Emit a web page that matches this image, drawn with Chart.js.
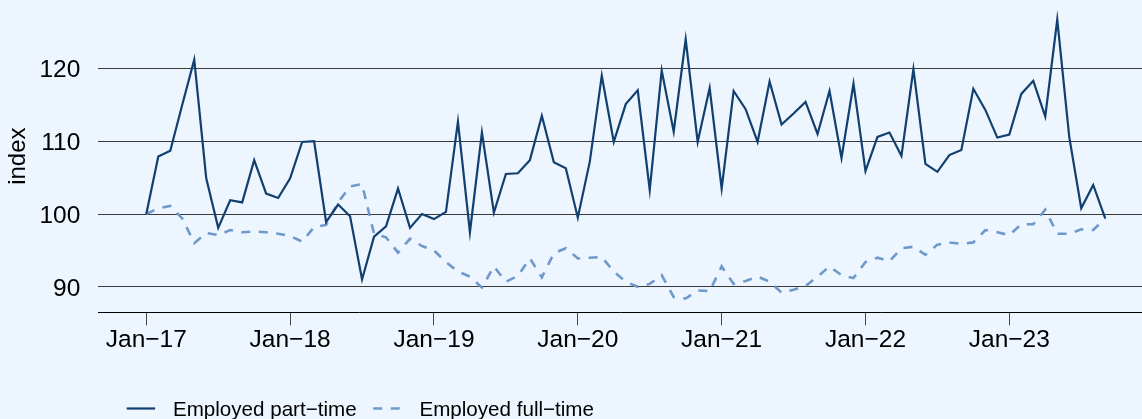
<!DOCTYPE html>
<html>
<head>
<meta charset="utf-8">
<script src="https://cdn.jsdelivr.net/npm/chart.js@4/dist/chart.umd.min.js"></script>
<style>
  html, body { margin: 0; padding: 0; background: #edf5fe; overflow: hidden; }
  #wrap { width: 1142px; height: 419px; position: relative; }
</style>
</head>
<body>
<div id="wrap"><canvas id="c" width="1142" height="419"></canvas></div>
<script>
// ---- data ----
const seriesNames = ['Employed part\u2212time', 'Employed full\u2212time'];
const partTime = [
  100.0, 107.9, 108.7, 115.0, 121.2, 104.9, 98.1, 101.9, 101.6, 107.4, 102.8, 102.2,
  104.9, 109.9, 110.0, 98.9, 101.3, 99.7, 91.0, 96.9, 98.3, 103.5, 98.1, 100.0,
  99.3, 100.3, 112.7, 97.5, 111.2, 100.2, 105.5, 105.6, 107.4, 113.5, 107.1, 106.3,
  99.5, 107.2, 119.0, 109.9, 115.1, 117.0, 103.3, 119.7, 111.3, 124.0, 109.9, 117.3,
  103.5, 116.9, 114.4, 109.9, 118.2, 112.3, 113.8, 115.4, 111.0, 116.9, 107.7, 117.9,
  105.9, 110.6, 111.2, 108.0, 119.9, 106.9, 105.8, 108.1, 108.8, 117.2, 114.3, 110.5,
  110.9, 116.5, 118.3, 113.4, 126.7, 110.6, 100.8, 104.0, 99.4
];
const fullTime = [
  100.0, 100.8, 101.1, 99.4, 96.0, 97.4, 97.1, 97.8, 97.5, 97.6, 97.5, 97.3,
  97.0, 96.2, 98.2, 98.5, 101.6, 103.8, 104.1, 97.3, 96.8, 94.7, 96.6, 95.6,
  95.0, 93.4, 92.1, 91.4, 89.9, 92.8, 90.7, 91.5, 93.9, 91.3, 94.6, 95.3,
  93.9, 94.0, 94.1, 92.1, 90.7, 90.0, 90.4, 91.6, 88.6, 88.4, 89.5, 89.4,
  92.8, 90.4, 90.8, 91.4, 90.7, 89.2, 89.6, 90.1, 91.4, 92.8, 91.6, 91.2,
  93.4, 94.0, 93.5, 95.3, 95.5, 94.4, 95.8, 96.1, 95.9, 96.1, 97.8, 97.5,
  97.1, 98.6, 98.6, 100.6, 97.3, 97.3, 97.9, 97.8, 99.4
];
const monthNames = ['Jan','Feb','Mar','Apr','May','Jun','Jul','Aug','Sep','Oct','Nov','Dec'];
const months = partTime.map((_, i) => monthNames[i % 12] + '\u2212' + String(17 + Math.floor(i / 12)));
const xTickLabels = ['Jan\u221217', 'Jan\u221218', 'Jan\u221219', 'Jan\u221220', 'Jan\u221221', 'Jan\u221222', 'Jan\u221223'];
const yTickValues = [90, 100, 110, 120];
const yTitle = 'index';

// ---- build ----
const FONT = '"Liberation Sans", Arial, Helvetica, sans-serif';
const xTickValues = xTickLabels.map(l => months.indexOf(l));
const toPts = arr => arr.map((v, i) => ({ x: i, y: v }));

const legendPlugin = {
  id: 'customLegend',
  afterDraw(chart) {
    const ctx = chart.ctx;
    const ds = chart.data.datasets;
    ctx.save();
    ctx.font = '20.6px ' + FONT;
    ctx.textBaseline = 'alphabetic';
    ctx.fillStyle = '#000';
    let x = 126.7;
    const lineY = 408.5, baseY = 416;
    ds.forEach((d) => {
      ctx.save();
      ctx.strokeStyle = d.borderColor;
      ctx.lineWidth = d.borderWidth;
      ctx.setLineDash(d.borderDash || []);
      ctx.beginPath();
      ctx.moveTo(x, lineY);
      ctx.lineTo(x + 28.4, lineY);
      ctx.stroke();
      ctx.restore();
      x += 28.4 + 17.8;
      ctx.fillText(d.label, x, baseY);
      x += ctx.measureText(d.label).width + 16.6;
    });
    ctx.restore();
  }
};

new Chart(document.getElementById('c'), {
  type: 'line',
  data: {
    datasets: [
      { label: seriesNames[0], data: toPts(partTime), borderColor: '#103f70', borderWidth: 2.2,
        pointRadius: 0, tension: 0, fill: false },
      { label: seriesNames[1], data: toPts(fullTime), borderColor: '#7099cb', borderWidth: 2.6,
        borderDash: [9, 8.5], pointRadius: 0, tension: 0, fill: false }
    ]
  },
  options: {
    responsive: false,
    animation: false,
    devicePixelRatio: 1,
    layout: { padding: 0 },
    plugins: { legend: { display: false }, tooltip: { enabled: false } },
    scales: {
      x: {
        type: 'linear',
        min: -4.005,
        max: 83.07,
        afterBuildTicks: s => { s.ticks = xTickValues.map(v => ({ value: v })); },
        afterFit: s => { s.height = 106.7; s.paddingLeft = 0; s.paddingRight = 0; },
        ticks: {
          autoSkip: false, maxRotation: 0, padding: 0, color: '#000',
          font: { family: FONT, size: 24.5 },
          callback: v => xTickLabels[xTickValues.indexOf(v)]
        },
        grid: { drawOnChartArea: false, drawTicks: true, tickLength: 13, color: '#444', lineWidth: 1 },
        border: { display: true, color: '#000', width: 1 }
      },
      y: {
        type: 'linear',
        min: 86.5,
        max: 129.4,
        afterBuildTicks: s => { s.ticks = yTickValues.map(v => ({ value: v })); },
        afterFit: s => { s.width = 98.3; s.paddingTop = 0; s.paddingBottom = 0; },
        ticks: { padding: 18, labelOffset: 2, color: '#000', font: { family: FONT, size: 24.5 } },
        grid: { drawTicks: false, color: '#3a3a3a', lineWidth: 1 },
        border: { display: false },
        title: { display: true, text: yTitle, color: '#000', font: { family: FONT, size: 24 },
                 padding: { top: 4, bottom: 0 } }
      }
    }
  },
  plugins: [legendPlugin]
});
</script>
</body>
</html>
